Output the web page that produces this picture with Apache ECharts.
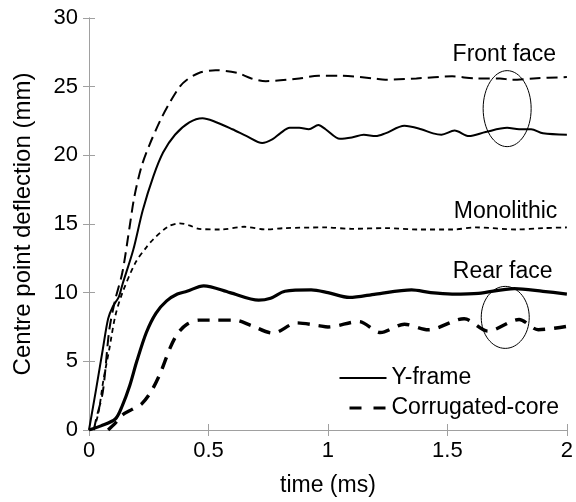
<!DOCTYPE html>
<html>
<head>
<meta charset="utf-8">
<script src="https://cdn.jsdelivr.net/npm/echarts@6/dist/echarts.min.js"></script>
<style>
  html, body { margin: 0; padding: 0; background: #fff; }
  #chart { width: 576px; height: 502px; }
</style>
</head>
<body>
<div id="chart"></div>
<script>
// tick positions (ms / mm)
const xTicks = [0, 0.5, 1, 1.5, 2]
const yTicks = [0, 5, 10, 15, 20, 25, 30]

// [time (ms), deflection (mm)]
const frontYframe = [
  [0, 0], [0.03, 3.0], [0.058, 5.9], [0.08, 8.1], [0.1, 9.0], [0.125, 9.7], [0.14, 10.6],
  [0.185, 13.1], [0.225, 16.0], [0.27, 18.5], [0.31, 20.2], [0.36, 21.5], [0.42, 22.4],
  [0.475, 22.7], [0.52, 22.5], [0.6, 21.9], [0.66, 21.4], [0.725, 20.9], [0.77, 21.2],
  [0.8, 21.6], [0.84, 22.0], [0.88, 22.0], [0.92, 21.9], [0.96, 22.2], [0.99, 21.9],
  [1.05, 21.2], [1.1, 21.3], [1.15, 21.5], [1.2, 21.4], [1.24, 21.6], [1.32, 22.15],
  [1.39, 21.9], [1.44, 21.6], [1.475, 21.5], [1.53, 21.8], [1.59, 21.4], [1.66, 21.7],
  [1.75, 22.0], [1.8, 21.9], [1.85, 21.9], [1.9, 21.6], [2.0, 21.5]
]
const frontCorrugated = [
  [0.02, 0], [0.03, 0.8], [0.058, 2.8], [0.085, 7.3], [0.11, 9.5], [0.14, 11.5], [0.17, 14.8],
  [0.19, 17.0], [0.22, 19.2], [0.254, 20.8], [0.3, 22.6], [0.34, 23.9], [0.38, 25.0],
  [0.41, 25.5], [0.46, 26.0], [0.53, 26.2], [0.62, 26.0], [0.68, 25.6], [0.74, 25.4],
  [0.88, 25.6], [0.96, 25.8], [1.05, 25.8], [1.19, 25.6], [1.24, 25.5], [1.37, 25.6],
  [1.52, 25.75], [1.62, 25.6], [1.72, 25.6], [1.77, 25.5], [1.86, 25.6], [2.0, 25.7]
]
const monolithic = [
  [0.02, 0], [0.04, 1.3], [0.06, 3.6], [0.085, 5.9], [0.11, 8.3], [0.14, 10.0], [0.195, 12.2],
  [0.24, 13.3], [0.27, 13.9], [0.33, 14.8], [0.38, 15.05], [0.42, 14.9], [0.46, 14.65],
  [0.55, 14.6], [0.65, 14.8], [0.74, 14.6], [0.82, 14.7], [0.99, 14.75], [1.1, 14.65],
  [1.24, 14.7], [1.38, 14.6], [1.52, 14.6], [1.62, 14.75], [1.79, 14.6], [1.9, 14.7], [2.0, 14.75]
]
const rearYframe = [
  [0, 0], [0.05, 0.3], [0.11, 0.8], [0.14, 1.8], [0.17, 3.2], [0.2, 5.0], [0.24, 7.1],
  [0.28, 8.5], [0.325, 9.4], [0.37, 9.9], [0.41, 10.1], [0.48, 10.5], [0.59, 10.0],
  [0.71, 9.45], [0.76, 9.6], [0.82, 10.1], [0.93, 10.2], [1.0, 10.0], [1.09, 9.65],
  [1.2, 9.9], [1.35, 10.2], [1.43, 10.0], [1.52, 9.9], [1.63, 9.95], [1.78, 10.3],
  [1.9, 10.1], [2.0, 9.9]
]
const rearCorrugated = [
  [0.08, 0], [0.11, 0.5], [0.14, 1.1], [0.18, 1.5], [0.22, 1.9], [0.26, 2.8], [0.3, 4.2],
  [0.34, 6.0], [0.37, 7.0], [0.41, 7.7], [0.46, 8.0], [0.52, 8.0], [0.61, 8.0], [0.68, 7.6],
  [0.77, 7.05], [0.87, 7.8], [0.96, 7.6], [1.0, 7.5], [1.13, 7.9], [1.22, 7.1], [1.32, 7.7],
  [1.42, 7.3], [1.57, 8.1], [1.67, 7.2], [1.8, 8.05], [1.88, 7.3], [2.0, 7.55]
]

// annotations: [x, y] in data units
const notes = [
  { text: 'Front face', at: [1.955, 27.3] },
  { text: 'Monolithic', at: [1.96, 15.9] },
  { text: 'Rear face', at: [1.94, 11.5] }
]
const rings = [
  { at: [1.75, 23.4], rx: 24, ry: 38 },
  { at: [1.742, 8.2], rx: 24, ry: 31 }
]

const font = 'Arial, "Liberation Sans", sans-serif'
const gray = '#a0a0a0'

const myChart = echarts.init(document.getElementById('chart'))

function line(name, data, width, dash) {
  return {
    name: name,
    type: 'line',
    data: data,
    symbol: 'none',
    smooth: 0.3,
    silent: true,
    itemStyle: { color: '#000' },
    lineStyle: { color: '#000', width: width, type: dash || 'solid' }
  }
}

const axisCommon = {
  type: 'value',
  axisLine: { show: true, lineStyle: { color: gray, width: 1 } },
  axisTick: { show: true, inside: true, length: 6, lineStyle: { color: gray } },
  splitLine: { show: false }
}

const option = {
  animation: false,
  grid: { left: 89, right: 7, top: 18, bottom: 71 },
  xAxis: [
    Object.assign({}, axisCommon, {
      min: xTicks[0], max: xTicks[xTicks.length - 1], interval: xTicks[1] - xTicks[0],
      name: 'time (ms)', nameLocation: 'middle', nameGap: 44,
      nameTextStyle: { fontFamily: font, fontSize: 23, color: '#000' },
      axisLabel: { fontFamily: font, fontSize: 22, color: '#000', margin: 10 }
    }),
    Object.assign({}, axisCommon, {
      position: 'top',
      min: xTicks[0], max: xTicks[xTicks.length - 1], interval: xTicks[1] - xTicks[0],
      axisLabel: { show: false }
    })
  ],
  yAxis: [
    Object.assign({}, axisCommon, {
      min: yTicks[0], max: yTicks[yTicks.length - 1], interval: yTicks[1] - yTicks[0],
      name: 'Centre point deflection (mm)', nameLocation: 'middle', nameGap: 54,
      nameTextStyle: { fontFamily: font, fontSize: 24, color: '#000' },
      axisLabel: { fontFamily: font, fontSize: 22, color: '#000', margin: 11 }
    }),
    Object.assign({}, axisCommon, {
      position: 'right',
      min: yTicks[0], max: yTicks[yTicks.length - 1], interval: yTicks[1] - yTicks[0],
      axisLabel: { show: false }
    })
  ],
  legend: {
    orient: 'vertical',
    left: 333,
    top: 360,
    itemWidth: 47,
    itemHeight: 26,
    itemGap: 4,
    selectedMode: false,
    textStyle: { fontFamily: font, fontSize: 23, color: '#000', lineHeight: 26 },
    data: [
      { name: 'Y-frame', itemStyle: { opacity: 0 },
        lineStyle: { color: '#000', width: 2, type: 'solid' } },
      { name: 'Corrugated-core', itemStyle: { opacity: 0 },
        lineStyle: { color: '#000', width: 3, type: [12, 12], dashOffset: 14 } }
    ]
  },
  series: [
    line('Y-frame', frontYframe, 2),
    line('Corrugated-core', frontCorrugated, 2, [11, 6]),
    line('Monolithic', monolithic, 1.8, [5, 4]),
    line('Y-frame', rearYframe, 3.2),
    line('Corrugated-core', rearCorrugated, 3.4, [12, 9])
  ]
}

myChart.setOption(option)

// annotations placed through the chart's own scales
const toPx = p => myChart.convertToPixel({ xAxisIndex: 0, yAxisIndex: 0 }, p)
const graphic = []
notes.forEach(n => {
  const p = toPx(n.at)
  graphic.push({
    type: 'text', x: p[0], y: p[1], silent: true,
    style: { text: n.text, fontFamily: font, fontSize: 23, fill: '#000',
      textAlign: 'right', textVerticalAlign: 'middle' }
  })
})
rings.forEach(r => {
  const p = toPx(r.at)
  graphic.push({
    type: 'ellipse', silent: true,
    shape: { cx: p[0], cy: p[1], rx: r.rx, ry: r.ry },
    style: { fill: 'none', stroke: '#000', lineWidth: 1 }
  })
})
myChart.setOption({ graphic: graphic })
</script>
</body>
</html>
